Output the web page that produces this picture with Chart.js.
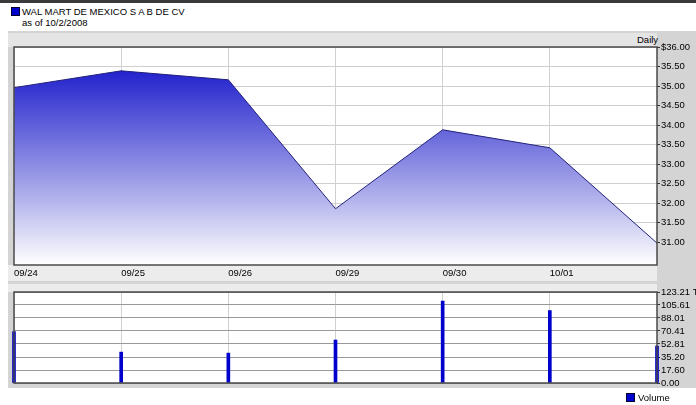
<!DOCTYPE html>
<html>
<head>
<meta charset="utf-8">
<script src="https://cdn.jsdelivr.net/npm/chart.js@4/dist/chart.umd.min.js"></script>
<style>
    body { margin: 0; background: #fff; width: 696px; height: 405px; overflow: hidden; position: relative;
           font-family: "Liberation Sans", Arial, sans-serif; font-size: 9.5px; }
    .abs { position: absolute; }
    .swatch { position: absolute; background: #0000cc; border: 1px solid #000033; box-sizing: border-box; }
</style>
</head>
<body>
<div class="abs" style="left:0;top:0;width:696px;height:3px;background:#3a3a3a;"></div>
<div class="swatch" style="left:11px;top:7px;width:9px;height:9px;"></div>
<div class="abs" style="left:22px;top:6px;">WAL MART DE MEXICO S A B DE CV</div>
<div class="abs" style="left:22px;top:17px;">as of 10/2/2008</div>

<div class="abs" style="left:8px;top:31px;width:688px;height:357px;background:#d4d4d4;"></div>
<div class="abs" style="left:8px;top:33px;width:649px;height:14px;background:#e4e4e4;"></div>
<div class="abs" style="left:8px;top:265px;width:649px;height:16px;background:#ececec;"></div>
<div class="abs" style="left:8px;top:284px;width:649px;height:8px;background:#ececec;"></div>
<div class="abs" style="left:14px;top:47px;width:643px;height:218px;background:#fff;"></div>
<div class="abs" style="left:14px;top:292px;width:643px;height:91px;background:#fff;"></div>
<div class="abs" style="left:637px;top:34px;">Daily</div>

<div class="abs" style="left:8px;top:31px;width:688px;height:252px;"><canvas id="priceChart"></canvas></div>
<div class="abs" style="left:8px;top:284px;width:688px;height:110px;"><canvas id="volumeChart"></canvas></div>

<div class="swatch" style="left:626px;top:393px;width:9px;height:9px;"></div>
<div class="abs" style="left:638px;top:392px;">Volume</div>

<script>
const dates = ["09/24", "09/25", "09/26", "09/29", "09/30", "10/01", "10/02"];
const prices = [34.96, 35.39, 35.16, 31.86, 33.88, 33.42, 30.98];
const volumes = [69.5, 41.8, 40.5, 58.2, 110.9, 98.1, 50.0];
const priceTicks = [31.0, 31.5, 32.0, 32.5, 33.0, 33.5, 34.0, 34.5, 35.0, 35.5, 36.0];
const volumeTicks = [0.0, 17.6, 35.2, 52.81, 70.41, 88.01, 105.61, 123.21];

const tickFont = { family: "'Liberation Sans', Arial, sans-serif", size: 9.5 };

// dark frame around the plot area
const framePlugin = {
    id: "frame",
    afterDatasetsDraw(chart) {
        const a = chart.chartArea;
        const ctx = chart.ctx;
        ctx.save();
        ctx.strokeStyle = "#4a4a4a";
        ctx.lineWidth = 1.5;
        ctx.strokeRect(a.left, a.top, a.right - a.left, a.bottom - a.top);
        ctx.restore();
    },
};

function xAxis(height, showLabels) {
    return {
        offset: false,
        grid: { color: "#d0d0d0", drawTicks: false, offset: false },
        border: { display: false },
        ticks: {
            display: showLabels,
            font: tickFont,
            color: "#000",
            align: "start",
            padding: 3,
            maxRotation: 0,
            autoSkip: false,
            callback: (v, i) => (i === dates.length - 1 ? "" : dates[i]),
        },
        afterFit: (scale) => { scale.height = height; },
    };
}

function yAxis(min, max, tickValues, topLabel, gridColor) {
    return {
        position: "right",
        min,
        max,
        afterBuildTicks: (scale) => { scale.ticks = tickValues.map((v) => ({ value: v })); },
        grid: { color: gridColor, tickColor: "#333", tickLength: 3 },
        border: { display: false },
        ticks: {
            font: tickFont,
            color: "#000",
            padding: 1,
            autoSkip: false,
            callback: (v) => (v === max ? topLabel : v.toFixed(2)),
        },
        afterFit: (scale) => { scale.width = 39; },
    };
}

new Chart(document.getElementById("priceChart"), {
    type: "line",
    data: {
        labels: dates,
        datasets: [
            {
                data: prices,
                borderColor: "#22227a",
                borderWidth: 1,
                pointRadius: 0,
                tension: 0,
                fill: "start",
                backgroundColor: (context) => {
                    const area = context.chart.chartArea;
                    if (!area) return "#5555dd";
                    const g = context.chart.ctx.createLinearGradient(0, area.top + 20, 0, area.bottom);
                    g.addColorStop(0, "#1e1ecc");
                    g.addColorStop(0.55, "#9898e6");
                    g.addColorStop(1, "#ffffff");
                    return g;
                },
            },
        ],
    },
    options: {
        responsive: true,
        maintainAspectRatio: false,
        animation: false,
        layout: { padding: { left: 6, top: 16, right: 0, bottom: 0 } },
        plugins: { legend: { display: false }, tooltip: { enabled: false } },
        scales: {
            x: xAxis(18, true),
            y: yAxis(30.42, 36, priceTicks, "$36.00", "#cfcfcf"),
        },
    },
    plugins: [framePlugin],
});

new Chart(document.getElementById("volumeChart"), {
    type: "bar",
    data: {
        labels: dates,
        datasets: [
            {
                data: volumes,
                backgroundColor: "#0000cc",
                barThickness: 3,
                clip: false,
            },
        ],
    },
    options: {
        responsive: true,
        maintainAspectRatio: false,
        animation: false,
        layout: { padding: { left: 6, top: 8, right: 0, bottom: 0 } },
        plugins: { legend: { display: false }, tooltip: { enabled: false } },
        scales: {
            x: xAxis(11, false),
            y: yAxis(0, 123.21, volumeTicks, "123.21 Th", "#999999"),
        },
    },
    plugins: [framePlugin],
});
</script>
</body>
</html>
